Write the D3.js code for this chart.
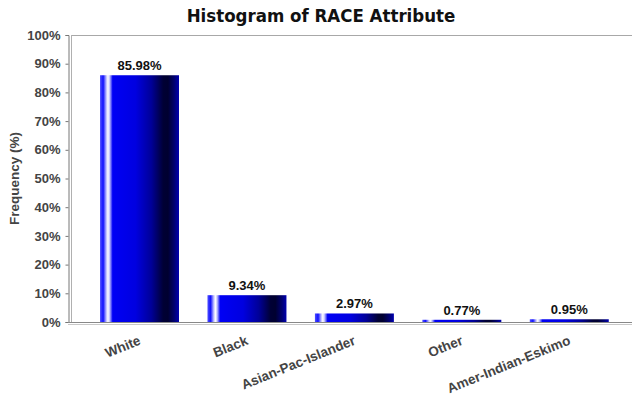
<!DOCTYPE html>
<html>
<head>
<meta charset="utf-8">
<script src="https://cdn.jsdelivr.net/npm/d3@7"></script>
<style>
  body { margin: 0; background: #fff; }
  text { font-family: "Liberation Sans", Arial, sans-serif; }
</style>
</head>
<body>
<div id="container"></div>
<script>
const categories = ['White', 'Black', 'Asian-Pac-Islander', 'Other', 'Amer-Indian-Eskimo'];
const frequencies = [85.98, 9.34, 2.97, 0.77, 0.95];
const yTicks = [0, 10, 20, 30, 40, 50, 60, 70, 80, 90, 100];

const width = 632, height = 399;
const plot = { left: 71, top: 35, right: 632, bottom: 322 };

const svg = d3.select('#container')
    .append('svg')
    .attr('width', width)
    .attr('height', height);

// bar shading, left to right
const defs = svg.append('defs');
const grad = defs.append('linearGradient')
    .attr('id', 'bar-grad')
    .attr('x1', '0%').attr('x2', '100%')
    .attr('y1', '0%').attr('y2', '0%');
[
    [0, '#5050ff'], [0.04, '#1010ff'], [0.08, '#c0c0ff'], [0.1, '#ffffff'],
    [0.12, '#c8c8ff'], [0.16, '#0000f5'], [0.45, '#0000e0'], [0.65, '#000098'],
    [0.8, '#000035'], [0.86, '#000030'], [0.94, '#000070'], [1, '#0000b0']
].forEach(([o, c]) => grad.append('stop').attr('offset', o).attr('stop-color', c));

const x = d3.scaleBand()
    .domain(categories)
    .range([85.8, 623])
    .paddingInner(0.265)
    .paddingOuter(0.1325);

const y = d3.scaleLinear()
    .domain([0, 100])
    .range([plot.bottom, plot.top]);

// plot frame
svg.append('line')
    .attr('x1', plot.left).attr('x2', plot.right)
    .attr('y1', plot.top + 0.5).attr('y2', plot.top + 0.5)
    .attr('stroke', '#a8a8a8');
svg.append('line')
    .attr('x1', plot.left + 0.5).attr('x2', plot.left + 0.5)
    .attr('y1', plot.top).attr('y2', plot.bottom)
    .attr('stroke', '#b0b0b0');

// y axis
const yAxis = svg.append('g')
    .attr('transform', 'translate(68.5,0)')
    .call(d3.axisLeft(y).tickValues(yTicks).tickSize(3).tickPadding(5).tickFormat(d => d + '%'));
yAxis.select('.domain').attr('stroke', '#777');
yAxis.selectAll('.tick line').attr('stroke', '#777');
yAxis.selectAll('text')
    .attr('font-size', 13)
    .attr('font-weight', 'bold')
    .attr('fill', '#444')
    .attr('font-family', '"Liberation Sans", Arial, sans-serif');

// bars
svg.append('g').selectAll('rect')
    .data(frequencies)
    .enter()
    .append('rect')
    .attr('x', (d, i) => x(categories[i]))
    .attr('width', x.bandwidth())
    .attr('y', d => y(d))
    .attr('height', d => y(0) - y(d))
    .attr('fill', 'url(#bar-grad)');

// value labels
svg.append('g').selectAll('text')
    .data(frequencies)
    .enter()
    .append('text')
    .attr('x', (d, i) => x(categories[i]) + x.bandwidth() / 2)
    .attr('y', d => y(d) - 5)
    .attr('text-anchor', 'middle')
    .attr('font-size', 13)
    .attr('font-weight', 'bold')
    .attr('fill', '#111')
    .text(d => d.toFixed(2) + '%');

// x axis
svg.append('line')
    .attr('x1', 68).attr('x2', plot.right)
    .attr('y1', plot.bottom + 0.5).attr('y2', plot.bottom + 0.5)
    .attr('stroke', '#888');
svg.append('line')
    .attr('x1', 68).attr('x2', plot.right)
    .attr('y1', plot.bottom + 2.5).attr('y2', plot.bottom + 2.5)
    .attr('stroke', '#c8c8c8');

svg.append('g').selectAll('text')
    .data(categories)
    .enter()
    .append('text')
    .attr('transform', d => `translate(${x(d) + x.bandwidth() / 2 + 2},${plot.bottom + 22}) rotate(-22)`)
    .attr('text-anchor', 'end')
    .attr('font-size', 13.5)
    .attr('font-weight', 'bold')
    .attr('fill', '#444')
    .text(d => d);

// y axis title
svg.append('text')
    .attr('transform', `translate(19,${(plot.top + plot.bottom) / 2}) rotate(-90)`)
    .attr('text-anchor', 'middle')
    .attr('font-size', 13.5)
    .attr('font-weight', 'bold')
    .attr('fill', '#444')
    .text('Frequency (%)');

// title
svg.append('text')
    .attr('x', 321)
    .attr('y', 22)
    .attr('text-anchor', 'middle')
    .attr('font-size', 18.5)
    .attr('font-weight', 'bold')
    .attr('fill', '#111')
    .style('font-family', '"DejaVu Sans Condensed", "Liberation Sans Narrow", sans-serif')
    .text('Histogram of RACE Attribute');
</script>
</body>
</html>
